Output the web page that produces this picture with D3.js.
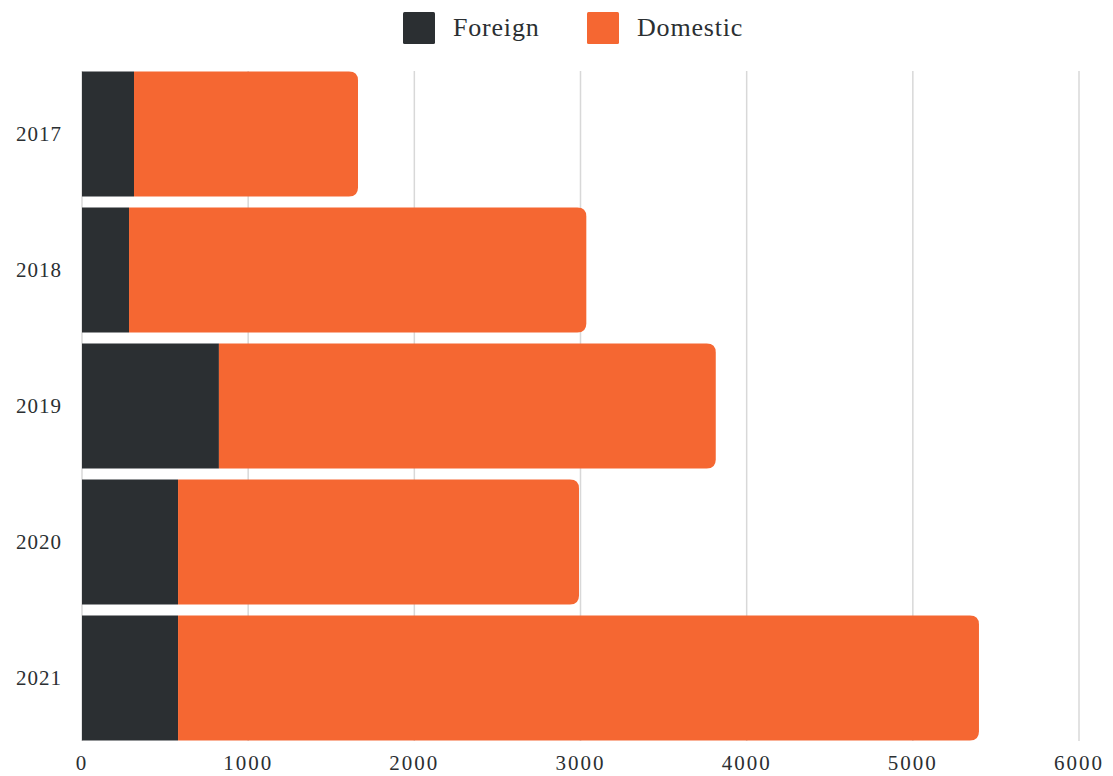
<!DOCTYPE html>
<html>
<head>
<meta charset="utf-8">
<script src="https://cdn.jsdelivr.net/npm/d3@7"></script>
<style>
  body { margin: 0; background: #fff; }
  text { font-family: 'Liberation Serif', 'DejaVu Serif', serif; fill: #2b2f32; }
</style>
</head>
<body>
<div id="chart"></div>
<script>
const years = ['2017', '2018', '2019', '2020', '2021']
const foreign = [313, 283, 824, 578, 578]
const domestic = [1348, 2752, 2990, 2413, 4820]
const seriesNames = ['Foreign', 'Domestic']
const xTicks = [0, 1000, 2000, 3000, 4000, 5000, 6000]

const colors = ['#2b2f32', '#f56732']

const width = 1113
const height = 776
const margin = { top: 66, left: 82, right: 34, bottom: 30 }

const svg = d3
  .select('#chart')
  .append('svg')
  .attr('width', width)
  .attr('height', height)

const rows = years.map((y, i) => ({ year: y, Foreign: foreign[i], Domestic: domestic[i] }))
const stacked = d3.stack().keys(seriesNames)(rows)

const xScale = d3.scaleLinear().domain([0, 6000]).range([margin.left, 1079])

const yScale = d3
  .scaleBand()
  .domain(years)
  .range([margin.top, 746])
  .paddingInner(0.08)
  .paddingOuter(0.04)

// gridlines
svg
  .selectAll('.grid')
  .data(xTicks)
  .enter()
  .append('line')
  .attr('class', 'grid')
  .attr('x1', d => xScale(d))
  .attr('x2', d => xScale(d))
  .attr('y1', yScale.range()[0] + 5)
  .attr('y2', yScale.range()[1] - 5)
  .attr('stroke', '#d8d8d8')
  .attr('stroke-width', 1.5)

// bar with right corners rounded (only for the last series)
function barPath(x0, x1, y, h, r) {
  r = Math.min(r, x1 - x0)
  return 'M' + x0 + ',' + y +
    'H' + (x1 - r) +
    'Q' + x1 + ',' + y + ' ' + x1 + ',' + (y + r) +
    'V' + (y + h - r) +
    'Q' + x1 + ',' + (y + h) + ' ' + (x1 - r) + ',' + (y + h) +
    'H' + x0 + 'Z'
}

stacked.forEach((layer, li) => {
  svg
    .selectAll('.bar-' + li)
    .data(layer)
    .enter()
    .append('path')
    .attr('class', 'bar-' + li)
    .attr('fill', colors[li])
    .attr('d', d => {
      const r = li === stacked.length - 1 ? 9 : 0
      return barPath(xScale(d[0]), xScale(d[1]), yScale(d.data.year), yScale.bandwidth(), r)
    })
})

// y labels
svg
  .selectAll('.year')
  .data(years)
  .enter()
  .append('text')
  .attr('class', 'year')
  .attr('x', 62)
  .attr('y', d => yScale(d) + yScale.bandwidth() / 2)
  .attr('dy', '0.35em')
  .attr('text-anchor', 'end')
  .attr('font-size', 21)
  .attr('letter-spacing', 1)
  .text(d => d)

// x labels
svg
  .selectAll('.xlab')
  .data(xTicks)
  .enter()
  .append('text')
  .attr('class', 'xlab')
  .attr('x', d => xScale(d))
  .attr('y', 770)
  .attr('text-anchor', 'middle')
  .attr('font-size', 21)
  .attr('letter-spacing', 2)
  .text(d => d)

// legend
const legendX = [403, 587]
const legend = svg
  .selectAll('.legend')
  .data(seriesNames)
  .enter()
  .append('g')
  .attr('class', 'legend')
  .attr('transform', (d, i) => 'translate(' + legendX[i] + ',12)')

legend
  .append('rect')
  .attr('width', 32)
  .attr('height', 32)
  .attr('rx', 1.5)
  .attr('fill', (d, i) => colors[i])

legend
  .append('text')
  .attr('x', 50)
  .attr('y', 24)
  .attr('font-size', 26)
  .attr('letter-spacing', 0.8)
  .text(d => d)
</script>
</body>
</html>
